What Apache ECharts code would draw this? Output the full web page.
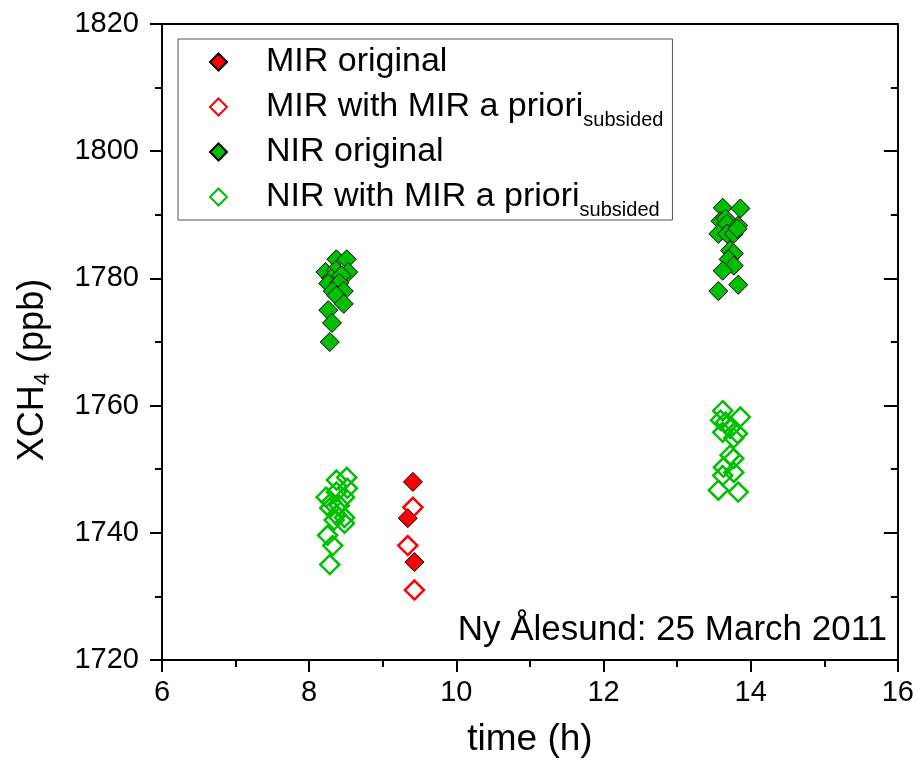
<!DOCTYPE html>
<html>
<head>
<meta charset="utf-8">
<script src="https://cdn.jsdelivr.net/npm/echarts@6/dist/echarts.min.js"></script>
<style>
  html, body { margin: 0; padding: 0; background: #fff; }
  #chart { width: 917px; height: 773px; }
</style>
</head>
<body>
<div id="chart"></div>
<script>
    // time (h) and XCH4 (ppb)
    var mirOrigTime = [9.41, 9.34, 9.43];
    var mirOrigVal = [1748, 1742.3, 1735.4];

    var mirApriTime = [9.41, 9.34, 9.43];
    var mirApriVal = [1744, 1738, 1731];

    var nirOrigTime = [8.22, 8.37, 8.51, 8.36, 8.53, 8.30, 8.44, 8.26, 8.41, 8.32, 8.47, 8.37, 8.47, 8.26, 8.31, 8.28,
        13.62, 13.86, 13.59, 13.66, 13.68, 13.83, 13.56, 13.68, 13.77, 13.82, 13.72, 13.77, 13.70, 13.77, 13.62, 13.83, 13.56];
    var nirOrigVal = [1781, 1783, 1783, 1781.3, 1781, 1780, 1780.5, 1779.2, 1779.3, 1778, 1778, 1777.3, 1776, 1775, 1773, 1770,
        1791.1, 1791, 1789, 1789.4, 1788.6, 1788.3, 1787, 1787, 1787, 1787.8, 1784.4, 1783.9, 1783, 1782, 1781.2, 1779, 1778];

    var nirApriTime = [8.37, 8.51, 8.52, 8.23, 8.37, 8.48, 8.30, 8.41, 8.28, 8.37, 8.48, 8.34, 8.48, 8.25, 8.32, 8.28,
        13.62, 13.86, 13.59, 13.66, 13.62, 13.72, 13.82, 13.77, 13.72, 13.77, 13.63, 13.77, 13.62, 13.56, 13.83];
    var nirApriVal = [1748.3, 1748.7, 1747, 1745.6, 1746.4, 1745.6, 1744.8, 1744.3, 1743.9, 1742.8, 1742.4, 1742, 1741.5, 1739.6, 1738, 1735,
        1759.2, 1758.2, 1757.7, 1757.4, 1755.8, 1756.4, 1755.6, 1754.9, 1752.2, 1751.7, 1750.3, 1749.5, 1749, 1746.7, 1746.4];

    var xTicks = [6, 8, 10, 12, 14, 16];
    var yTicks = [1720, 1740, 1760, 1780, 1800, 1820];

    var FONT = 'Liberation Sans';
    var RED = '#ff0000';
    var GREEN = '#00bf00';

    function pairs(t, v) {
        return t.map(function (x, i) { return [x, v[i]]; });
    }

    var chart = echarts.init(document.getElementById('chart'));

    var option = {
        backgroundColor: '#fff',
        animation: false,
        grid: {
            left: 162,
            right: 19,
            top: 24,
            bottom: 113
        },
        legend: {
            orient: 'vertical',
            left: 178,
            top: 39,
            padding: [6, 9, 0, 31],
            itemGap: 5,
            itemWidth: 17,
            itemHeight: 17,
            borderColor: '#555',
            borderWidth: 1,
            formatter: function (name) {
                if (name.indexOf('priori') >= 0) {
                    return '{m|' + name + '}{s|subsided}';
                }
                return '{m|' + name + '}';
            },
            textStyle: {
                fontFamily: FONT,
                color: '#000',
                rich: {
                    m: { fontSize: 34, fontFamily: FONT, color: '#000', lineHeight: 38, padding: [0, 0, 0, 34] },
                    s: { fontSize: 20, fontFamily: FONT, color: '#000', lineHeight: 20, padding: [26, 0, 0, 0] }
                }
            },
            data: ['MIR original', 'MIR with MIR a priori', 'NIR original', 'NIR with MIR a priori']
        },
        xAxis: [{
            type: 'value',
            position: 'bottom',
            min: xTicks[0],
            max: xTicks[xTicks.length - 1],
            interval: 2,
            name: 'time (h)',
            nameLocation: 'middle',
            nameGap: 61,
            nameTextStyle: { fontFamily: FONT, fontSize: 37, color: '#000' },
            axisLine: { lineStyle: { color: '#000', width: 2 } },
            axisTick: { inside: false, length: 12, lineStyle: { color: '#000', width: 2 } },
            minorTick: { show: true, splitNumber: 2, length: 7, lineStyle: { color: '#000', width: 2 } },
            axisLabel: { fontFamily: FONT, fontSize: 29, color: '#000', margin: 18 },
            splitLine: { show: false }
        }, {
            type: 'value',
            position: 'top',
            min: xTicks[0],
            max: xTicks[xTicks.length - 1],
            interval: 2,
            axisLine: { lineStyle: { color: '#000', width: 2 } },
            axisTick: { show: false },
            axisLabel: { show: false },
            splitLine: { show: false }
        }],
        yAxis: [{
            type: 'value',
            position: 'left',
            min: yTicks[0],
            max: yTicks[yTicks.length - 1],
            interval: 20,
            name: 'XCH{sub|4} (ppb)',
            nameLocation: 'middle',
            nameGap: 108,
            nameTextStyle: {
                fontFamily: FONT,
                fontSize: 36,
                color: '#000',
                padding: [0, 56, 0, 0],
                rich: {
                    sub: { fontFamily: FONT, fontSize: 22, color: '#000', padding: [20, 0, 0, 0] }
                }
            },
            axisLine: { lineStyle: { color: '#000', width: 2 } },
            axisTick: { inside: false, length: 12, lineStyle: { color: '#000', width: 2 } },
            minorTick: { show: true, splitNumber: 2, length: 7, lineStyle: { color: '#000', width: 2 } },
            axisLabel: {
                fontFamily: FONT, fontSize: 29, color: '#000', margin: 23,
                formatter: function (v) { return String(v); }
            },
            splitLine: { show: false }
        }, {
            type: 'value',
            position: 'right',
            min: yTicks[0],
            max: yTicks[yTicks.length - 1],
            interval: 20,
            axisLine: { lineStyle: { color: '#000', width: 2 } },
            axisTick: { inside: true, length: 14, lineStyle: { color: '#000', width: 2 } },
            minorTick: { show: true, splitNumber: 2, length: 7, lineStyle: { color: '#000', width: 2 } },
            axisLabel: { show: false },
            splitLine: { show: false }
        }],
        graphic: [{
            type: 'text',
            right: 30,
            top: 613,
            style: {
                text: 'Ny Ålesund: 25 March 2011',
                font: '35px "Liberation Sans"',
                fill: '#000'
            }
        }],
        series: [{
            name: 'MIR original',
            type: 'scatter',
            symbol: 'diamond',
            symbolSize: 19,
            itemStyle: { color: RED, borderColor: '#000', borderWidth: 1, opacity: 1 },
            data: pairs(mirOrigTime, mirOrigVal)
        }, {
            name: 'MIR with MIR a priori',
            type: 'scatter',
            symbol: 'diamond',
            symbolSize: 19,
            itemStyle: { color: 'rgba(255,255,255,0)', borderColor: RED, borderWidth: 2.5, opacity: 1 },
            data: pairs(mirApriTime, mirApriVal)
        }, {
            name: 'NIR original',
            type: 'scatter',
            symbol: 'diamond',
            symbolSize: 19,
            itemStyle: { color: GREEN, borderColor: '#000', borderWidth: 1, opacity: 1 },
            data: pairs(nirOrigTime, nirOrigVal)
        }, {
            name: 'NIR with MIR a priori',
            type: 'scatter',
            symbol: 'diamond',
            symbolSize: 19,
            itemStyle: { color: 'rgba(255,255,255,0)', borderColor: GREEN, borderWidth: 2.5, opacity: 1 },
            data: pairs(nirApriTime, nirApriVal)
        }]
    };

    chart.setOption(option);
</script>
</body>
</html>
